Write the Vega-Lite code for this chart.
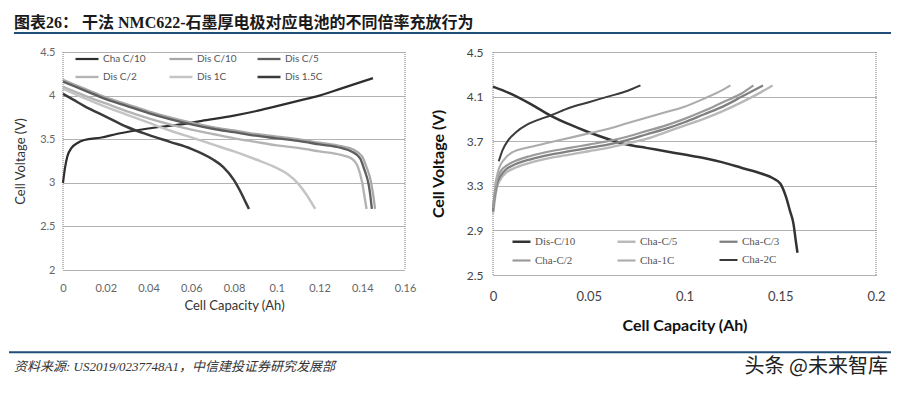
{
  "$schema": "https://vega.github.io/schema/vega-lite/v6.json",
  "background": "white",
  "padding": {"left": 8, "top": 15, "right": 0, "bottom": 0},
  "config": {"view": {"stroke": null}},
  "spacing": 0,
  "datasets": {
    "left": [
      {"s":"Cha  C/10","c":0,"v":3.0},{"s":"Cha  C/10","c":0.001,"v":3.18},{"s":"Cha  C/10","c":0.002,"v":3.3},{"s":"Cha  C/10","c":0.004,"v":3.4},{"s":"Cha  C/10","c":0.007,"v":3.46},{"s":"Cha  C/10","c":0.01,"v":3.49},{"s":"Cha  C/10","c":0.018,"v":3.52},{"s":"Cha  C/10","c":0.025,"v":3.56},{"s":"Cha  C/10","c":0.034,"v":3.6},{"s":"Cha  C/10","c":0.045,"v":3.64},{"s":"Cha  C/10","c":0.055,"v":3.67},{"s":"Cha  C/10","c":0.065,"v":3.71},{"s":"Cha  C/10","c":0.08,"v":3.77},{"s":"Cha  C/10","c":0.09,"v":3.82},{"s":"Cha  C/10","c":0.1,"v":3.88},{"s":"Cha  C/10","c":0.11,"v":3.94},{"s":"Cha  C/10","c":0.12,"v":4.0},{"s":"Cha  C/10","c":0.13,"v":4.08},{"s":"Cha  C/10","c":0.14,"v":4.16},{"s":"Cha  C/10","c":0.145,"v":4.2},
      {"s":"Dis C/10","c":0,"v":4.18},{"s":"Dis C/10","c":0.01,"v":4.08},{"s":"Dis C/10","c":0.02,"v":3.98},{"s":"Dis C/10","c":0.03,"v":3.9},{"s":"Dis C/10","c":0.04,"v":3.82},{"s":"Dis C/10","c":0.05,"v":3.75},{"s":"Dis C/10","c":0.06,"v":3.69},{"s":"Dis C/10","c":0.07,"v":3.64},{"s":"Dis C/10","c":0.08,"v":3.6},{"s":"Dis C/10","c":0.09,"v":3.56},{"s":"Dis C/10","c":0.1,"v":3.53},{"s":"Dis C/10","c":0.11,"v":3.5},{"s":"Dis C/10","c":0.12,"v":3.46},{"s":"Dis C/10","c":0.13,"v":3.42},{"s":"Dis C/10","c":0.136,"v":3.38},{"s":"Dis C/10","c":0.14,"v":3.3},{"s":"Dis C/10","c":0.142,"v":3.18},{"s":"Dis C/10","c":0.144,"v":3.02},{"s":"Dis C/10","c":0.145,"v":2.88},{"s":"Dis C/10","c":0.146,"v":2.7},
      {"s":"Dis C/5","c":0,"v":4.16},{"s":"Dis C/5","c":0.01,"v":4.06},{"s":"Dis C/5","c":0.02,"v":3.96},{"s":"Dis C/5","c":0.03,"v":3.88},{"s":"Dis C/5","c":0.04,"v":3.8},{"s":"Dis C/5","c":0.05,"v":3.73},{"s":"Dis C/5","c":0.06,"v":3.67},{"s":"Dis C/5","c":0.07,"v":3.62},{"s":"Dis C/5","c":0.08,"v":3.58},{"s":"Dis C/5","c":0.09,"v":3.54},{"s":"Dis C/5","c":0.1,"v":3.51},{"s":"Dis C/5","c":0.11,"v":3.48},{"s":"Dis C/5","c":0.12,"v":3.44},{"s":"Dis C/5","c":0.13,"v":3.4},{"s":"Dis C/5","c":0.135,"v":3.36},{"s":"Dis C/5","c":0.139,"v":3.28},{"s":"Dis C/5","c":0.141,"v":3.15},{"s":"Dis C/5","c":0.143,"v":2.98},{"s":"Dis C/5","c":0.1438,"v":2.85},{"s":"Dis C/5","c":0.1445,"v":2.7},
      {"s":"Dis C/2","c":0,"v":4.1},{"s":"Dis C/2","c":0.01,"v":4.0},{"s":"Dis C/2","c":0.02,"v":3.91},{"s":"Dis C/2","c":0.03,"v":3.82},{"s":"Dis C/2","c":0.04,"v":3.74},{"s":"Dis C/2","c":0.05,"v":3.67},{"s":"Dis C/2","c":0.06,"v":3.61},{"s":"Dis C/2","c":0.07,"v":3.56},{"s":"Dis C/2","c":0.08,"v":3.51},{"s":"Dis C/2","c":0.09,"v":3.47},{"s":"Dis C/2","c":0.1,"v":3.43},{"s":"Dis C/2","c":0.11,"v":3.4},{"s":"Dis C/2","c":0.12,"v":3.36},{"s":"Dis C/2","c":0.13,"v":3.32},{"s":"Dis C/2","c":0.135,"v":3.28},{"s":"Dis C/2","c":0.138,"v":3.18},{"s":"Dis C/2","c":0.14,"v":3.0},{"s":"Dis C/2","c":0.141,"v":2.85},{"s":"Dis C/2","c":0.142,"v":2.7},
      {"s":"Dis 1C","c":0,"v":4.08},{"s":"Dis 1C","c":0.01,"v":3.97},{"s":"Dis 1C","c":0.02,"v":3.87},{"s":"Dis 1C","c":0.03,"v":3.78},{"s":"Dis 1C","c":0.04,"v":3.69},{"s":"Dis 1C","c":0.05,"v":3.6},{"s":"Dis 1C","c":0.06,"v":3.52},{"s":"Dis 1C","c":0.07,"v":3.44},{"s":"Dis 1C","c":0.08,"v":3.36},{"s":"Dis 1C","c":0.09,"v":3.27},{"s":"Dis 1C","c":0.1,"v":3.17},{"s":"Dis 1C","c":0.105,"v":3.1},{"s":"Dis 1C","c":0.11,"v":2.99},{"s":"Dis 1C","c":0.114,"v":2.86},{"s":"Dis 1C","c":0.118,"v":2.7},
      {"s":"Dis 1.5C","c":0,"v":4.02},{"s":"Dis 1.5C","c":0.005,"v":3.95},{"s":"Dis 1.5C","c":0.01,"v":3.88},{"s":"Dis 1.5C","c":0.02,"v":3.76},{"s":"Dis 1.5C","c":0.03,"v":3.64},{"s":"Dis 1.5C","c":0.04,"v":3.55},{"s":"Dis 1.5C","c":0.05,"v":3.47},{"s":"Dis 1.5C","c":0.06,"v":3.39},{"s":"Dis 1.5C","c":0.07,"v":3.27},{"s":"Dis 1.5C","c":0.075,"v":3.18},{"s":"Dis 1.5C","c":0.08,"v":3.03},{"s":"Dis 1.5C","c":0.083,"v":2.9},{"s":"Dis 1.5C","c":0.085,"v":2.8},{"s":"Dis 1.5C","c":0.087,"v":2.7}
    ],
    "right": [
      {"s":"Dis-C/10","c":0,"v":4.19},{"s":"Dis-C/10","c":0.01,"v":4.12},{"s":"Dis-C/10","c":0.02,"v":4.03},{"s":"Dis-C/10","c":0.03,"v":3.93},{"s":"Dis-C/10","c":0.04,"v":3.85},{"s":"Dis-C/10","c":0.05,"v":3.78},{"s":"Dis-C/10","c":0.06,"v":3.72},{"s":"Dis-C/10","c":0.07,"v":3.67},{"s":"Dis-C/10","c":0.08,"v":3.64},{"s":"Dis-C/10","c":0.09,"v":3.61},{"s":"Dis-C/10","c":0.1,"v":3.58},{"s":"Dis-C/10","c":0.11,"v":3.55},{"s":"Dis-C/10","c":0.12,"v":3.51},{"s":"Dis-C/10","c":0.13,"v":3.46},{"s":"Dis-C/10","c":0.14,"v":3.41},{"s":"Dis-C/10","c":0.146,"v":3.37},{"s":"Dis-C/10","c":0.15,"v":3.32},{"s":"Dis-C/10","c":0.153,"v":3.2},{"s":"Dis-C/10","c":0.155,"v":3.08},{"s":"Dis-C/10","c":0.157,"v":2.95},{"s":"Dis-C/10","c":0.158,"v":2.82},{"s":"Dis-C/10","c":0.159,"v":2.7},
      {"s":"Cha-C/5","c":0,"v":3.05},{"s":"Cha-C/5","c":0.001,"v":3.18},{"s":"Cha-C/5","c":0.002,"v":3.28},{"s":"Cha-C/5","c":0.004,"v":3.36},{"s":"Cha-C/5","c":0.007,"v":3.42},{"s":"Cha-C/5","c":0.01,"v":3.45},{"s":"Cha-C/5","c":0.02,"v":3.51},{"s":"Cha-C/5","c":0.03,"v":3.55},{"s":"Cha-C/5","c":0.04,"v":3.58},{"s":"Cha-C/5","c":0.05,"v":3.61},{"s":"Cha-C/5","c":0.06,"v":3.64},{"s":"Cha-C/5","c":0.07,"v":3.68},{"s":"Cha-C/5","c":0.08,"v":3.72},{"s":"Cha-C/5","c":0.09,"v":3.78},{"s":"Cha-C/5","c":0.1,"v":3.84},{"s":"Cha-C/5","c":0.11,"v":3.9},{"s":"Cha-C/5","c":0.12,"v":3.97},{"s":"Cha-C/5","c":0.13,"v":4.05},{"s":"Cha-C/5","c":0.14,"v":4.14},{"s":"Cha-C/5","c":0.146,"v":4.2},
      {"s":"Cha-C/3","c":0,"v":3.07},{"s":"Cha-C/3","c":0.001,"v":3.22},{"s":"Cha-C/3","c":0.002,"v":3.31},{"s":"Cha-C/3","c":0.004,"v":3.39},{"s":"Cha-C/3","c":0.007,"v":3.45},{"s":"Cha-C/3","c":0.01,"v":3.48},{"s":"Cha-C/3","c":0.02,"v":3.54},{"s":"Cha-C/3","c":0.03,"v":3.58},{"s":"Cha-C/3","c":0.04,"v":3.61},{"s":"Cha-C/3","c":0.05,"v":3.64},{"s":"Cha-C/3","c":0.06,"v":3.67},{"s":"Cha-C/3","c":0.07,"v":3.71},{"s":"Cha-C/3","c":0.08,"v":3.76},{"s":"Cha-C/3","c":0.09,"v":3.81},{"s":"Cha-C/3","c":0.1,"v":3.87},{"s":"Cha-C/3","c":0.11,"v":3.94},{"s":"Cha-C/3","c":0.12,"v":4.01},{"s":"Cha-C/3","c":0.13,"v":4.1},{"s":"Cha-C/3","c":0.141,"v":4.2},
      {"s":"Cha-C/2","c":0,"v":3.1},{"s":"Cha-C/2","c":0.001,"v":3.25},{"s":"Cha-C/2","c":0.002,"v":3.35},{"s":"Cha-C/2","c":0.004,"v":3.43},{"s":"Cha-C/2","c":0.007,"v":3.48},{"s":"Cha-C/2","c":0.01,"v":3.51},{"s":"Cha-C/2","c":0.02,"v":3.57},{"s":"Cha-C/2","c":0.03,"v":3.61},{"s":"Cha-C/2","c":0.04,"v":3.64},{"s":"Cha-C/2","c":0.05,"v":3.67},{"s":"Cha-C/2","c":0.06,"v":3.7},{"s":"Cha-C/2","c":0.07,"v":3.74},{"s":"Cha-C/2","c":0.08,"v":3.79},{"s":"Cha-C/2","c":0.09,"v":3.84},{"s":"Cha-C/2","c":0.1,"v":3.9},{"s":"Cha-C/2","c":0.11,"v":3.97},{"s":"Cha-C/2","c":0.12,"v":4.05},{"s":"Cha-C/2","c":0.13,"v":4.13},{"s":"Cha-C/2","c":0.136,"v":4.2},
      {"s":"Cha-1C","c":0.001,"v":3.3},{"s":"Cha-1C","c":0.003,"v":3.45},{"s":"Cha-1C","c":0.006,"v":3.54},{"s":"Cha-1C","c":0.01,"v":3.6},{"s":"Cha-1C","c":0.02,"v":3.65},{"s":"Cha-1C","c":0.03,"v":3.69},{"s":"Cha-1C","c":0.04,"v":3.73},{"s":"Cha-1C","c":0.05,"v":3.77},{"s":"Cha-1C","c":0.06,"v":3.81},{"s":"Cha-1C","c":0.07,"v":3.86},{"s":"Cha-1C","c":0.08,"v":3.91},{"s":"Cha-1C","c":0.09,"v":3.96},{"s":"Cha-1C","c":0.1,"v":4.01},{"s":"Cha-1C","c":0.11,"v":4.08},{"s":"Cha-1C","c":0.12,"v":4.16},{"s":"Cha-1C","c":0.124,"v":4.2},
      {"s":"Cha-2C","c":0.003,"v":3.52},{"s":"Cha-2C","c":0.005,"v":3.62},{"s":"Cha-2C","c":0.008,"v":3.71},{"s":"Cha-2C","c":0.012,"v":3.78},{"s":"Cha-2C","c":0.018,"v":3.85},{"s":"Cha-2C","c":0.025,"v":3.9},{"s":"Cha-2C","c":0.03,"v":3.93},{"s":"Cha-2C","c":0.04,"v":4.0},{"s":"Cha-2C","c":0.05,"v":4.05},{"s":"Cha-2C","c":0.06,"v":4.1},{"s":"Cha-2C","c":0.07,"v":4.15},{"s":"Cha-2C","c":0.077,"v":4.2}
    ],
    "edgesL": [{"e": 0}, {"e": 0.16}],
    "edgesR": [{"e": 0}, {"e": 0.2}],
    "footer": [
      {"t": "资料来源: US2019/0237748A1，中信建投证券研究发展部", "side": "left"},
      {"t": "头条 @未来智库", "side": "right"}
    ],
    "one": [{"a": 0}]
  },
  "vconcat": [
    {
      "width": 828,
      "height": 13,
      "title": {
        "text": "图表26：   干法 NMC622-石墨厚电极对应电池的不同倍率充放行为",
        "anchor": "start",
        "frame": "group",
        "orient": "top",
        "offset": 1,
        "dx": -49,
        "font": "Liberation Serif, Noto Sans CJK SC",
        "fontSize": 16,
        "fontWeight": "bold",
        "color": "#1a1a1a"
      },
      "data": {"name": "one"},
      "mark": {"type": "rule", "color": "#1f4e79", "strokeWidth": 2},
      "encoding": {
        "x": {"datum": -0.0592, "type": "quantitative", "scale": {"domain": [0, 1]}, "axis": null},
        "x2": {"datum": 1},
        "y": {"datum": 1, "type": "quantitative", "scale": {"domain": [0, 1]}, "axis": null}
      }
    },
    {
      "spacing": 14,
      "resolve": {"scale": {"color": "independent", "strokeWidth": "independent", "x": "independent", "y": "independent"}},
      "hconcat": [
        {
          "width": 342,
          "height": 218,
          "layer": [
            {
              "data": {"name": "edgesL"},
              "mark": {"type": "rule", "color": "#777", "strokeDash": [1, 1], "strokeWidth": 1},
              "encoding": {"x": {"field": "e", "type": "quantitative"}}
            },
            {
              "data": {"name": "left"},
              "mark": {"type": "line", "interpolate": "monotone"},
              "encoding": {
                "x": {
                  "field": "c", "type": "quantitative",
                  "scale": {"domain": [0, 0.16], "nice": false},
                  "axis": {"values": [0, 0.02, 0.04, 0.06, 0.08, 0.1, 0.12, 0.14, 0.16], "format": "~g", "labelFlush": false, "title": "Cell Capacity (Ah)", "grid": false, "domain": false, "ticks": false, "labelPadding": 12, "labelFont": "Lato", "labelFontSize": 11, "labelColor": "#666", "titleFont": "Lato", "titleFontSize": 13, "titleFontWeight": "normal", "titleColor": "#333", "titlePadding": 6}
                },
                "y": {
                  "field": "v", "type": "quantitative",
                  "scale": {"domain": [2, 4.5], "nice": false, "zero": false},
                  "axis": {"values": [2, 2.5, 3, 3.5, 4, 4.5], "format": "~g", "labelFlush": false, "title": "Cell Voltage (V)", "grid": true, "gridColor": "#666", "gridDash": [1, 1], "domain": false, "ticks": false, "labelPadding": 8, "labelFont": "Lato", "labelFontSize": 11, "labelColor": "#666", "titleFont": "Lato", "titleFontSize": 13, "titleFontWeight": "normal", "titleColor": "#333", "titlePadding": 12}
                },
                "color": {
                  "field": "s", "type": "nominal",
                  "scale": {"domain": ["Cha  C/10", "Dis C/10", "Dis C/5", "Dis C/2", "Dis 1C", "Dis 1.5C"], "range": ["#2e2e2e", "#a8a8a8", "#5e5e5e", "#b4b4b4", "#c4c4c4", "#3a3a3a"]},
                  "legend": {"orient": "none", "direction": "horizontal", "legendX": 11, "legendY": -6, "columns": 3, "title": null, "symbolType": "stroke", "symbolSize": 529, "symbolStrokeWidth": 2.5, "labelFont": "Lato", "labelFontSize": 10, "labelColor": "#555", "labelOffset": 3, "columnPadding": 15, "rowPadding": -8, "padding": 0}
                },
                "strokeWidth": {
                  "field": "s", "type": "nominal",
                  "scale": {"domain": ["Cha  C/10", "Dis C/10", "Dis C/5", "Dis C/2", "Dis 1C", "Dis 1.5C"], "range": [2.2, 2.5, 3, 1.8, 1.6, 2.2]},
                  "legend": null
                }
              }
            }
          ]
        },
        {
          "width": 383,
          "height": 223,
          "layer": [
            {
              "data": {"name": "edgesR"},
              "mark": {"type": "rule", "color": "#777", "strokeDash": [1, 1], "strokeWidth": 1},
              "encoding": {"x": {"field": "e", "type": "quantitative"}}
            },
            {
              "data": {"name": "right"},
              "mark": {"type": "line", "interpolate": "monotone"},
              "encoding": {
                "x": {
                  "field": "c", "type": "quantitative",
                  "scale": {"domain": [0, 0.2], "nice": false},
                  "axis": {"values": [0, 0.05, 0.1, 0.15, 0.2], "format": "~g", "labelFlush": false, "title": "Cell Capacity (Ah)", "grid": false, "domain": false, "ticks": false, "labelPadding": 15, "labelFont": "Lato", "labelFontSize": 13, "labelColor": "#444", "titleFont": "Lato", "titleFontSize": 16, "titleFontWeight": "bold", "titleColor": "#111", "titlePadding": 14}
                },
                "y": {
                  "field": "v", "type": "quantitative",
                  "scale": {"domain": [2.5, 4.5], "nice": false, "zero": false},
                  "axis": {"values": [2.5, 2.9, 3.3, 3.7, 4.1, 4.5], "format": "~g", "labelFlush": false, "title": "Cell Voltage (V)", "grid": true, "gridColor": "#666", "gridDash": [1, 1], "domain": false, "ticks": false, "labelPadding": 10, "labelFont": "Lato", "labelFontSize": 12, "labelColor": "#444", "titleFont": "Lato", "titleFontSize": 16, "titleFontWeight": "bold", "titleColor": "#111", "titlePadding": 20}
                },
                "color": {
                  "field": "s", "type": "nominal",
                  "scale": {"domain": ["Dis-C/10", "Cha-C/5", "Cha-C/3", "Cha-C/2", "Cha-1C", "Cha-2C"], "range": ["#333333", "#b8b8b8", "#808080", "#9a9a9a", "#acacac", "#3a3a3a"]},
                  "legend": {"orient": "none", "direction": "horizontal", "legendX": 18, "legendY": 179, "columns": 3, "title": null, "symbolType": "stroke", "symbolSize": 324, "symbolStrokeWidth": 2.5, "labelFont": "Liberation Serif", "labelFontSize": 11, "labelColor": "#555", "labelOffset": 3, "columnPadding": 36, "rowPadding": 3, "padding": 0}
                },
                "strokeWidth": {
                  "field": "s", "type": "nominal",
                  "scale": {"domain": ["Dis-C/10", "Cha-C/5", "Cha-C/3", "Cha-C/2", "Cha-1C", "Cha-2C"], "range": [2.5, 2, 3, 2.5, 1.5, 2.2]},
                  "legend": null
                }
              }
            }
          ]
        }
      ]
    },
    {
      "width": 828,
      "height": 58,
      "data": {"name": "footer"},
      "layer": [
        {
          "data": {"name": "one"},
          "mark": {"type": "rule", "color": "#1f4e79", "strokeWidth": 2},
          "encoding": {
            "x": {"datum": -0.0652, "type": "quantitative", "scale": {"domain": [0, 1]}, "axis": null},
            "x2": {"datum": 1},
            "y": {"datum": 40, "type": "quantitative", "scale": {"domain": [0, 58]}, "axis": null}
          }
        },
        {
          "transform": [{"filter": "datum.side === 'left'"}],
          "mark": {"type": "text", "align": "left", "baseline": "middle", "font": "Liberation Serif, Noto Sans CJK SC", "fontSize": 13, "fontStyle": "italic", "color": "#333"},
          "encoding": {
            "text": {"field": "t"},
            "x": {"datum": -0.0592, "type": "quantitative"},
            "y": {"datum": 25, "type": "quantitative"}
          }
        },
        {
          "transform": [{"filter": "datum.side === 'right'"}],
          "mark": {"type": "text", "align": "right", "baseline": "middle", "font": "Noto Sans CJK SC", "fontSize": 20, "color": "#222"},
          "encoding": {
            "text": {"field": "t"},
            "x": {"datum": 0.9964, "type": "quantitative"},
            "y": {"datum": 25, "type": "quantitative"}
          }
        }
      ]
    }
  ]
}
